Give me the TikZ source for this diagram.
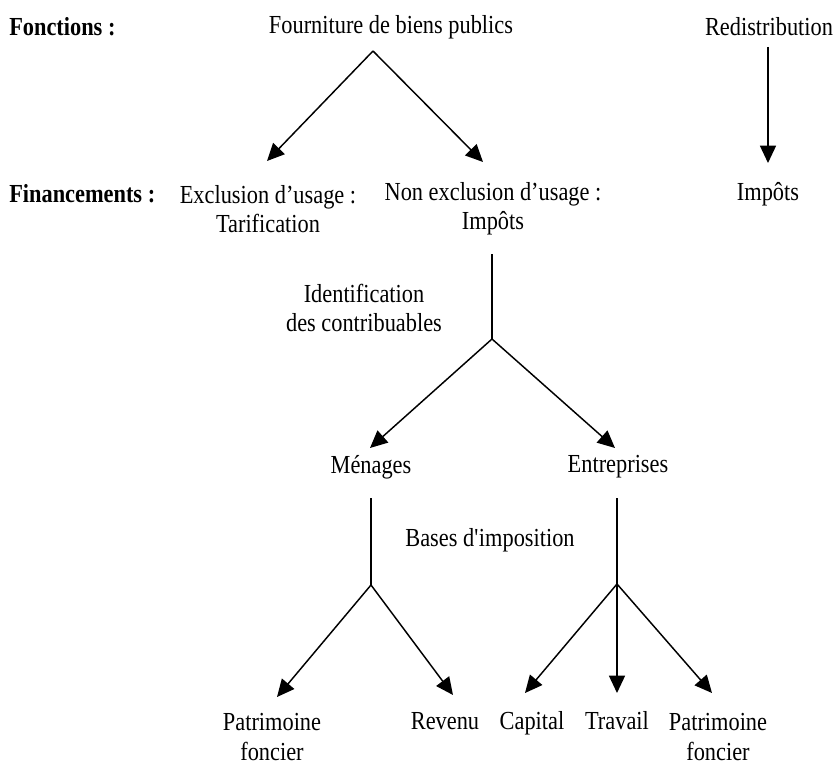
\documentclass[tikz,border=0pt]{standalone}
\usepackage{fontspec}
\setmainfont[FakeStretch=0.86]{Liberation Serif}
\usetikzlibrary{arrows.meta}

\begin{document}
\begin{tikzpicture}[x=0.75pt, y=-0.75pt,
  every node/.style={font=\fontsize{19.5}{22}\selectfont, align=center, inner sep=0pt},
  head/.style={font=\fontsize{19.5}{22}\selectfont\bfseries, anchor=west},
  flow/.style={-{Triangle[length=13pt, width=12pt]}, line width=1.1pt},
  stem/.style={line width=1.1pt}]
\useasboundingbox (0,0) rectangle (836,767);

\node[head] (fonc) at (9, 27) {Fonctions :};
\node[head] (fin) at (9, 194) {Financements :};

\node (biens) at (391, 27) {Fourniture de biens publics};
\node (redis) at (769, 27) {Redistribution};
\node (excl) at (268, 209) {Exclusion d'usage :\\Tarification};
\node (nonex) at (493, 209) {Non exclusion d'usage :\\Imp\^ots};
\node (imp) at (768, 194) {Impôts};
\node (ident) at (364, 308) {Identification\\des contribuables};
\node (men) at (371, 467) {Ménages};
\node (ent) at (618, 467) {Entreprises};
\node (bases) at (490, 540) {Bases d\textquotesingle imposition};
\node (patm) at (272, 737) {Patrimoine\\foncier};
\node[anchor=base] (rev) at (445, 729) {Revenu};
\node[anchor=base] (cap) at (532, 729) {Capital};
\node[anchor=base] (trav) at (617, 729) {Travail};
\node (pate) at (718, 737) {Patrimoine\\foncier};

\coordinate (j0) at (373, 51);
\coordinate (t0a) at (267, 161);
\coordinate (t0b) at (483, 162);
\coordinate (r0) at (768, 47);
\coordinate (r1) at (768, 163);
\coordinate (s1) at (492, 254);
\coordinate (j1) at (492, 339);
\coordinate (t1a) at (370, 448);
\coordinate (t1b) at (615, 448);
\coordinate (s2) at (371, 498);
\coordinate (j2) at (371, 585);
\coordinate (t2a) at (277, 697);
\coordinate (t2b) at (453, 695);
\coordinate (s3) at (617, 498);
\coordinate (j3) at (617, 584);
\coordinate (t3a) at (525, 693);
\coordinate (t3b) at (617, 693);
\coordinate (t3c) at (712, 693);

\draw (j0) to (t0a)[flow];
\draw (j0) to (t0b)[flow];
\draw (r0) to (r1)[flow];

\draw (s1) to (j1)[stem];
\draw (j1) to (t1a)[flow];
\draw (j1) to (t1b)[flow];

\draw (s2) to (j2)[stem];
\draw (j2) to (t2a)[flow];
\draw (j2) to (t2b)[flow];

\draw (s3) to (j3)[stem];
\draw (j3) to (t3a)[flow];
\draw (j3) to (t3b)[flow];
\draw (j3) to (t3c)[flow];

\end{tikzpicture}
\end{document}
